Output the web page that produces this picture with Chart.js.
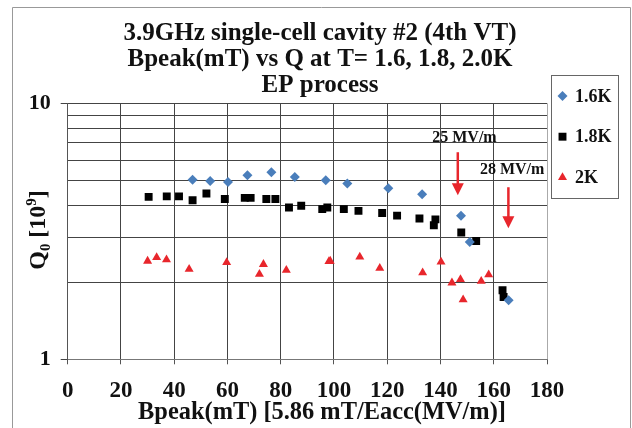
<!DOCTYPE html>
<html>
<head>
<meta charset="utf-8">
<script src="https://cdn.jsdelivr.net/npm/chart.js"></script>
<style>
  html, body { margin: 0; padding: 0; background: #fff; }
  canvas { display: block; }
</style>
</head>
<body>
<canvas id="qChart" width="632" height="428"></canvas>
<script>
// Bpeak [mT] vs Q0 [1e9], one pair of arrays per bath temperature
const bpeak16 = [46.9, 53.5, 60.2, 67.5, 76.5, 85.3, 96.9, 105.0, 120.4, 133.1, 147.7, 151.0, 165.6];
const q16 = [5.03, 4.97, 4.93, 5.23, 5.38, 5.15, 5.00, 4.86, 4.66, 4.41, 3.64, 2.87, 1.70];

const bpeak18 = [30.4, 37.2, 41.8, 46.9, 52.1, 59.0, 66.5, 68.7, 74.6, 78.0, 83.1, 87.7, 95.6,
  97.5, 103.7, 109.2, 118.1, 123.7, 132.1, 138.1, 137.5, 147.8, 153.4, 163.3, 163.7];
const q18 = [4.31, 4.33, 4.33, 4.18, 4.44, 4.23, 4.27, 4.27, 4.23, 4.23, 3.92, 3.98, 3.86,
  3.92, 3.86, 3.80, 3.73, 3.64, 3.55, 3.52, 3.34, 3.13, 2.90, 1.86, 1.75];

const bpeak20 = [30.0, 33.4, 37.1, 45.6, 59.7, 73.5, 72.0, 82.1, 98.1, 98.6, 109.7, 117.2,
  133.3, 140.2, 144.3, 147.5, 148.5, 155.3, 158.1];
const q20 = [2.42, 2.50, 2.45, 2.25, 2.39, 2.35, 2.15, 2.23, 2.41, 2.42, 2.51, 2.27,
  2.18, 2.40, 1.99, 2.05, 1.71, 2.02, 2.14];

const seriesLabels = ['1.6K', '1.8K', '2K'];

const titleLines = ['3.9GHz single-cell cavity #2 (4th VT)',
  'Bpeak(mT) vs Q at T= 1.6, 1.8, 2.0K',
  'EP process'];
const xTitle = 'Bpeak(mT) [5.86 mT/Eacc(MV/m)]';
// y caption pieces: text, baseline shift, relative size
const yTitleParts = [['Q', 0, 1], ['0', 5, 0.62], [' [10', 0, 1], ['9', -9, 0.62], [']', 0, 1]];

// axis ticks
const xTicks = [0, 20, 40, 60, 80, 100, 120, 140, 160, 180];
const yGrid = [1, 2, 3, 4, 5, 6, 7, 8, 9, 10];
const yTickLabels = [1, 10];

// gradient markers: 25 MV/m and 28 MV/m
const markerText = ['25 MV/m', '28 MV/m'];
const markerTextX = [149.0, 166.9];
const markerTextY = [7.30, 5.52];
const arrowX = [146.5, 165.5];
const arrowTop = [6.44, 4.70];
const arrowBottom = [4.37, 3.25];

const SERIF = "'Liberation Serif', 'Times New Roman', serif";
const RED = '#e8262c';

function pairs(xs, ys) {
  return xs.map((x, i) => ({ x: x, y: ys[i] }));
}

// rotated y caption with subscript and superscript
function drawYTitle(ctx, cx, cy, size) {
  ctx.save();
  ctx.translate(cx, cy);
  ctx.rotate(-Math.PI / 2);
  ctx.textAlign = 'left';
  ctx.textBaseline = 'alphabetic';
  let total = 0;
  yTitleParts.forEach(p => {
    ctx.font = 'bold ' + (size * p[2]) + 'px ' + SERIF;
    total += ctx.measureText(p[0]).width;
  });
  let x = -total / 2;
  const base = size * 0.33;
  yTitleParts.forEach(p => {
    ctx.font = 'bold ' + (size * p[2]) + 'px ' + SERIF;
    ctx.fillText(p[0], x, base + p[1]);
    x += ctx.measureText(p[0]).width;
  });
  ctx.restore();
}

// grey frame round the whole figure, title block and axis captions
const framePlugin = {
  id: 'frame',
  beforeDraw(chart) {
    const ctx = chart.ctx;
    ctx.save();
    ctx.fillStyle = '#fff';
    ctx.fillRect(0, 0, chart.width, chart.height);
    ctx.strokeStyle = '#999';
    ctx.lineWidth = 1;
    ctx.beginPath();
    ctx.moveTo(12.5, chart.height);
    ctx.lineTo(12.5, 7.5);
    ctx.lineTo(630.5, 7.5);
    ctx.lineTo(630.5, chart.height);
    ctx.stroke();

    ctx.fillStyle = '#111';
    ctx.textAlign = 'center';
    ctx.textBaseline = 'middle';
    ctx.font = 'bold 25px ' + SERIF;
    titleLines.forEach((t, i) => ctx.fillText(t, 320, 34 + i * 26));
    ctx.font = 'bold 24.4px ' + SERIF;
    ctx.fillText(xTitle, 322, 412.5);
    drawYTitle(ctx, 37, 230, 24);
    ctx.restore();
  }
};

// arrows and labels for the gradient markers
const arrowPlugin = {
  id: 'arrows',
  afterDatasetsDraw(chart) {
    const ctx = chart.ctx;
    const xs = chart.scales.x;
    const ys = chart.scales.y;
    ctx.save();
    ctx.font = 'bold 16px ' + SERIF;
    ctx.fillStyle = '#111';
    ctx.textAlign = 'center';
    ctx.textBaseline = 'middle';
    markerText.forEach((t, i) => {
      ctx.fillText(t, xs.getPixelForValue(markerTextX[i]), ys.getPixelForValue(markerTextY[i]));
    });
    ctx.strokeStyle = RED;
    ctx.fillStyle = RED;
    ctx.lineWidth = 2.5;
    arrowX.forEach((v, i) => {
      const px = xs.getPixelForValue(v);
      const top = ys.getPixelForValue(arrowTop[i]);
      const bottom = ys.getPixelForValue(arrowBottom[i]);
      ctx.beginPath();
      ctx.moveTo(px, top);
      ctx.lineTo(px, bottom - 10);
      ctx.stroke();
      ctx.beginPath();
      ctx.moveTo(px - 6, bottom - 12);
      ctx.lineTo(px + 6, bottom - 12);
      ctx.lineTo(px, bottom);
      ctx.closePath();
      ctx.fill();
    });
    ctx.restore();
  }
};

// boxed legend at the upper right
const legendBoxPlugin = {
  id: 'legendBox',
  afterDraw(chart) {
    const ctx = chart.ctx;
    ctx.save();
    ctx.fillStyle = '#fff';
    ctx.fillRect(551.5, 75.5, 67, 123);
    ctx.strokeStyle = '#666';
    ctx.lineWidth = 1;
    ctx.strokeRect(551.5, 75.5, 67, 123);
    ctx.font = 'bold 18px ' + SERIF;
    ctx.textAlign = 'left';
    ctx.textBaseline = 'middle';
    chart.data.datasets.forEach((ds, i) => {
      const y = 96 + i * 40.7;
      ctx.fillStyle = ds.backgroundColor;
      ctx.strokeStyle = ds.borderColor;
      Chart.helpers.drawPoint(ctx, {
        pointStyle: ds.pointStyle,
        radius: ds.pointRadius,
        borderWidth: 0,
        rotation: 0
      }, 562.5, y);
      ctx.fillStyle = '#111';
      ctx.fillText(ds.label, 575, y + 1);
    });
    ctx.restore();
  }
};

new Chart(document.getElementById('qChart').getContext('2d'), {
  type: 'scatter',
  data: {
    datasets: [{
      label: seriesLabels[0],
      data: pairs(bpeak16, q16),
      pointStyle: 'rectRot',
      pointRadius: 5,
      backgroundColor: '#4a7ebb',
      borderColor: '#4a7ebb',
      borderWidth: 0
    }, {
      label: seriesLabels[1],
      data: pairs(bpeak18, q18),
      pointStyle: 'rect',
      pointRadius: 5.6,
      backgroundColor: '#000',
      borderColor: '#000',
      borderWidth: 0
    }, {
      label: seriesLabels[2],
      data: pairs(bpeak20, q20),
      pointStyle: 'triangle',
      pointRadius: 5.2,
      backgroundColor: RED,
      borderColor: RED,
      borderWidth: 0
    }]
  },
  options: {
    responsive: false,
    animation: false,
    devicePixelRatio: 1,
    layout: { padding: { left: 0, right: 85, top: 103.3, bottom: 0 } },
    plugins: {
      legend: { display: false },
      tooltip: { enabled: false },
      title: { display: false }
    },
    scales: {
      x: {
        type: 'linear',
        min: 0,
        max: 180,
        afterBuildTicks(scale) { scale.ticks = xTicks.map(v => ({ value: v })); },
        afterFit(scale) { scale.height = 68.7; },
        grid: {
          color: ctx => ctx.tick && ctx.tick.value === 180 ? '#aaa' : '#444',
          tickColor: '#555',
          tickLength: 5
        },
        border: { color: '#777' },
        ticks: {
          color: '#111',
          padding: 13,
          maxRotation: 0,
          font: { family: SERIF, size: 23, weight: 'bold' }
        }
      },
      y: {
        type: 'logarithmic',
        min: 1,
        max: 10,
        afterBuildTicks(scale) { scale.ticks = yGrid.map(v => ({ value: v })); },
        afterFit(scale) { scale.width = 67.7; },
        grid: {
          color: '#444',
          tickColor: ctx => yTickLabels.includes(ctx.tick.value) ? '#444' : 'rgba(0,0,0,0)',
          tickLength: 7
        },
        border: { color: '#555' },
        ticks: {
          color: '#111',
          padding: 10,
          autoSkip: false,
          font: { family: SERIF, size: 22, weight: 'bold' },
          callback: v => yTickLabels.includes(v) ? String(v) : ''
        }
      }
    }
  },
  plugins: [framePlugin, arrowPlugin, legendBoxPlugin]
});
</script>
</body>
</html>
